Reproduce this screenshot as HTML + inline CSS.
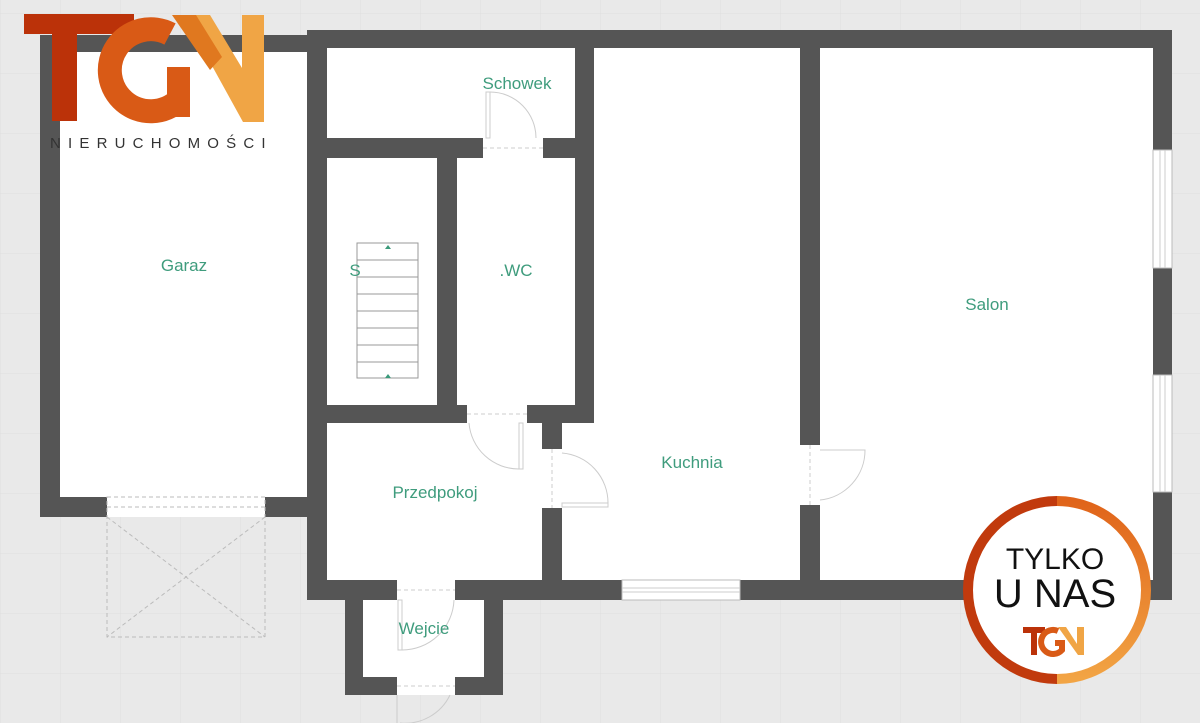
<!DOCTYPE html>
<html><head><meta charset="utf-8"><style>
html,body{margin:0;padding:0;background:#e9e9e9}
svg{display:block}
text{font-family:"Liberation Sans",sans-serif}
</style></head><body>
<svg width="1200" height="723" viewBox="0 0 1200 723" xmlns="http://www.w3.org/2000/svg">
<defs>
<pattern id="grid" width="60" height="60" patternUnits="userSpaceOnUse" x="0" y="13">
<path d="M60 0H0V60" fill="none" stroke="#dedede" stroke-width="1"/>
</pattern>
<linearGradient id="ringR" x1="0" y1="0" x2="0" y2="1">
<stop offset="0" stop-color="#e0641a"/><stop offset="1" stop-color="#f2a444"/></linearGradient>
</defs>
<rect width="1200" height="723" fill="#e9e9e9"/>
<rect width="1200" height="723" fill="url(#grid)"/>
<g fill="#fff">
<rect x="60" y="52" width="247" height="445"/>
<rect x="327" y="48" width="826" height="532"/>
<rect x="363" y="600" width="121" height="77"/>
<rect x="107" y="497" width="158" height="20"/>
<rect x="397" y="580" width="58" height="20"/>
<rect x="397" y="677" width="58" height="18"/>
</g>
<g fill="#555">
<rect x="40" y="35" width="267" height="17"/>
<rect x="40" y="35" width="20" height="482"/>
<rect x="40" y="497" width="67" height="20"/>
<rect x="265" y="497" width="62" height="20"/>
<rect x="307" y="30" width="865" height="18"/>
<rect x="307" y="30" width="20" height="570"/>
<rect x="307" y="580" width="90" height="20"/>
<rect x="455" y="580" width="167" height="20"/>
<rect x="740" y="580" width="432" height="20"/>
<rect x="1153" y="30" width="19" height="120"/>
<rect x="1153" y="268" width="19" height="107"/>
<rect x="1153" y="492" width="19" height="108"/>
<rect x="800" y="48" width="20" height="397"/>
<rect x="800" y="505" width="20" height="75"/>
<rect x="575" y="48" width="19" height="375"/>
<rect x="327" y="138" width="156" height="20"/>
<rect x="543" y="138" width="51" height="20"/>
<rect x="437" y="158" width="20" height="247"/>
<rect x="327" y="405" width="140" height="18"/>
<rect x="527" y="405" width="67" height="18"/>
<rect x="542" y="423" width="20" height="26"/>
<rect x="542" y="508" width="20" height="72"/>
<rect x="345" y="600" width="18" height="95"/>
<rect x="484" y="600" width="19" height="95"/>
<rect x="345" y="677" width="52" height="18"/>
<rect x="455" y="677" width="48" height="18"/>
</g>
<g fill="#fff" stroke="#bbb" stroke-width="1">
<rect x="1153" y="150" width="19" height="118"/>
<rect x="1153" y="375" width="19" height="117"/>
<rect x="622" y="580" width="118" height="20"/>
</g>
<g stroke="#ccc" stroke-width="1">
<line x1="1160" y1="150" x2="1160" y2="268"/><line x1="1165" y1="150" x2="1165" y2="268"/>
<line x1="1160" y1="375" x2="1160" y2="492"/><line x1="1165" y1="375" x2="1165" y2="492"/>
<line x1="622" y1="588" x2="740" y2="588"/><line x1="622" y1="592" x2="740" y2="592"/>
</g>
<g fill="none" stroke="#bbb" stroke-dasharray="4,3">
<rect x="107" y="497" width="158" height="140"/>
<line x1="107" y1="517" x2="265" y2="637"/><line x1="265" y1="517" x2="107" y2="637"/>
<line x1="107" y1="507" x2="265" y2="507"/>
</g>
<g fill="none" stroke="#ccc" stroke-width="1">
<rect x="486" y="92" width="4" height="46"/><path d="M490 92 A46 46 0 0 1 536 138"/>
<rect x="519" y="423" width="4" height="46"/><path d="M519 469 A50 50 0 0 1 469 423"/>
<rect x="562" y="503" width="46" height="4"/><path d="M608 503 A50 50 0 0 0 562 453"/>
<path d="M820 450 L865 450 A50 50 0 0 1 820 500"/>
<rect x="398" y="600" width="4" height="50"/><path d="M402 650 A52 52 0 0 0 454 600"/>
<line x1="397" y1="695" x2="397" y2="723"/><path d="M400 723 A50 50 0 0 0 450 695"/>
</g>
<g stroke="#ccc" stroke-dasharray="4,3">
<line x1="483" y1="148" x2="543" y2="148"/><line x1="467" y1="414" x2="527" y2="414"/>
<line x1="552" y1="449" x2="552" y2="508"/><line x1="810" y1="445" x2="810" y2="505"/>
<line x1="397" y1="590" x2="455" y2="590"/><line x1="397" y1="686" x2="455" y2="686"/>
</g>
<g fill="#fff" stroke="#999" stroke-width="1">
<rect x="357" y="243" width="61" height="135"/>
<line x1="357" y1="260" x2="418" y2="260"/><line x1="357" y1="277" x2="418" y2="277"/>
<line x1="357" y1="294" x2="418" y2="294"/><line x1="357" y1="311" x2="418" y2="311"/>
<line x1="357" y1="328" x2="418" y2="328"/><line x1="357" y1="345" x2="418" y2="345"/>
<line x1="357" y1="362" x2="418" y2="362"/>
</g>
<path d="M385 249 l3 -4 l3 4z M385 378 l3 -4 l3 4z" fill="#3a9a7a"/>
<g fill="#3f9c7d" font-size="17" text-anchor="middle">
<text x="517" y="89">Schowek</text>
<text x="184" y="271">Garaz</text>
<text x="355" y="276">S</text>
<text x="516" y="276">.WC</text>
<text x="987" y="310">Salon</text>
<text x="692" y="468">Kuchnia</text>
<text x="435" y="498">Przedpokoj</text>
<text x="424" y="634">Wejcie</text>
</g>
<!-- logo -->
<g>
<rect x="24" y="14" width="110" height="20" fill="#bb3209"/>
<rect x="52" y="14" width="25" height="107" fill="#bb3209"/>
<path d="M170 34 A41 41 0 1 0 179 100" fill="none" stroke="#d95a16" stroke-width="24"/>
<rect x="167" y="67" width="23" height="50" fill="#d95a16"/>
<path d="M184 15 L210 15 L242 68 L242 15 L264 15 L264 122 L243 122 Z" fill="#f0a545"/>
<path d="M172 15 L196 15 L222 57 L210 70 Z" fill="#e0781f"/>
<text x="50" y="148" font-size="15" fill="#333" letter-spacing="7.2">NIERUCHOMOŚCI</text>
</g>
<!-- badge -->
<circle cx="1057" cy="590" r="93" fill="#fff"/>
<path d="M1057 501 A89 89 0 0 0 1057 679" fill="none" stroke="#c13a0d" stroke-width="10"/>
<path d="M1057 501 A89 89 0 0 1 1057 679" fill="none" stroke="url(#ringR)" stroke-width="10"/>
<text x="1055" y="569" font-size="30" text-anchor="middle" fill="#111">TYLKO</text>
<text x="1055" y="607" font-size="40" text-anchor="middle" fill="#111">U NAS</text>
<g>
<rect x="1023" y="627" width="22" height="6" fill="#bb3209"/>
<rect x="1031" y="627" width="6" height="28" fill="#bb3209"/>
<path d="M1055 643 L1062 643 L1062 650 A12 12 0 1 1 1058 631" fill="none" stroke="#d95a16" stroke-width="6"/>
<path d="M1058 627 L1066 627 L1077 644 L1077 627 L1084 627 L1084 655 L1078 655 Z" fill="#f0a545"/>
</g>
</svg>
</body></html>
